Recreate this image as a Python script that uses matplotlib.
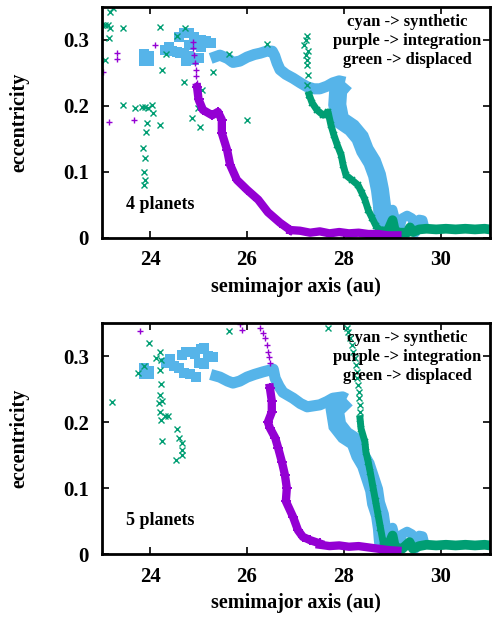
import matplotlib
matplotlib.use("Agg")
import matplotlib.pyplot as plt

plt.rcParams['font.family'] = ['Liberation Serif', 'DejaVu Serif']
plt.rcParams['font.weight'] = 'bold'

CYAN = '#56B4E9'
PURPLE = '#9400D3'
GREEN = '#009E73'

# ---------------- top panel: 4 planets ----------------
t_cyan_blk_a = [23.88, 23.98, 23.88, 23.98, 24.30, 24.40, 24.45, 24.55, 24.62, 24.60, 24.70, 24.80,
                24.90, 24.80, 24.95, 25.05, 24.70, 24.80, 24.90, 25.00, 24.75, 25.05, 25.15, 25.25]
t_cyan_blk_e = [0.278, 0.276, 0.268, 0.268, 0.285, 0.290, 0.283, 0.282, 0.280, 0.305, 0.310, 0.310,
                0.305, 0.292, 0.292, 0.290, 0.280, 0.275, 0.270, 0.272, 0.268, 0.300, 0.298, 0.295]
t_cyan_band_a = [25.25, 25.44, 25.60, 25.71, 25.85, 26.00, 26.15, 26.27, 26.40, 26.52, 26.57, 26.62,
                 26.68, 26.80, 26.95, 27.10, 27.24, 27.38, 27.50, 27.65, 27.77, 27.90, 28.02]
t_cyan_band_e = [0.272, 0.277, 0.272, 0.266, 0.268, 0.274, 0.278, 0.280, 0.283, 0.283, 0.276, 0.265,
                 0.255, 0.248, 0.242, 0.235, 0.229, 0.226, 0.226, 0.230, 0.235, 0.238, 0.236]
t_cyan_drop_a = [28.02, 27.88, 27.86, 27.92, 28.16, 28.33, 28.43, 28.58, 28.68, 28.74, 28.78, 28.80, 28.82]
t_cyan_drop_e = [0.236, 0.224, 0.202, 0.179, 0.167, 0.152, 0.133, 0.115, 0.095, 0.073, 0.050, 0.027, 0.009]
t_cyan_tail_a = [28.82, 28.90, 29.00, 29.08, 29.12, 29.20, 29.30, 29.40, 29.47, 29.55, 29.62, 29.68]
t_cyan_tail_e = [0.009, 0.038, 0.043, 0.020, 0.008, 0.030, 0.034, 0.030, 0.008, 0.028, 0.027, 0.009]

t_green_col_a = [27.24, 27.18, 27.22, 27.24, 27.26, 27.24, 27.28, 27.21, 27.25, 27.23]
t_green_col_e = [0.306, 0.292, 0.277, 0.262, 0.247, 0.232, 0.217, 0.300, 0.284, 0.270]
t_green_trk_a = [27.28, 27.34, 27.44, 27.57, 27.67, 27.73, 27.79, 27.86, 27.94, 27.98, 28.04, 28.16,
                 28.29, 28.37, 28.43, 28.50, 28.58, 28.66, 28.74]
t_green_trk_e = [0.217, 0.205, 0.194, 0.186, 0.191, 0.171, 0.156, 0.141, 0.126, 0.111, 0.095, 0.088,
                 0.080, 0.068, 0.058, 0.042, 0.030, 0.018, 0.012]
t_green_flat_a = [28.74, 28.90, 29.00, 29.05, 29.15, 29.30, 29.36, 29.42, 29.55, 29.70, 29.90, 30.10,
                  30.30, 30.50, 30.70, 30.90, 31.00]
t_green_flat_e = [0.010, 0.010, 0.027, 0.010, 0.008, 0.008, 0.016, 0.009, 0.013, 0.014, 0.013, 0.014,
                  0.013, 0.014, 0.013, 0.014, 0.013]
t_green_pts_a = [23.17, 23.24, 23.00, 23.07, 23.13, 23.17, 23.44, 24.21, 24.72, 23.16, 23.07, 24.56,
                 24.33, 24.25, 25.30, 24.70, 25.07, 26.41, 25.63, 23.44, 23.69, 23.83, 23.90, 23.96,
                 24.04, 24.06, 23.94, 23.92, 24.21, 23.86, 23.90, 23.88, 23.90, 23.88, 24.87, 25.03,
                 24.99, 25.46, 26.00]
t_green_pts_e = [0.342, 0.348, 0.323, 0.323, 0.323, 0.318, 0.318, 0.320, 0.318, 0.303, 0.270, 0.306,
                 0.279, 0.255, 0.252, 0.236, 0.224, 0.294, 0.279, 0.202, 0.197, 0.199, 0.199, 0.197,
                 0.202, 0.189, 0.174, 0.161, 0.171, 0.136, 0.121, 0.100, 0.088, 0.080, 0.182, 0.168,
                 0.197, 0.179, 0.179]

t_purple_col_a = [24.89, 24.88, 24.91, 24.93, 24.94, 24.95, 24.97]
t_purple_col_e = [0.297, 0.288, 0.277, 0.265, 0.255, 0.245, 0.235]
t_purple_trk_a = [24.97, 25.00, 25.09, 25.28, 25.40, 25.48, 25.48, 25.59, 25.65, 25.79, 26.00, 26.23,
                  26.43, 26.68, 26.89]
t_purple_trk_e = [0.228, 0.210, 0.194, 0.186, 0.191, 0.179, 0.159, 0.133, 0.111, 0.088, 0.073, 0.058,
                  0.039, 0.023, 0.012]
t_purple_flat_a = [26.89, 27.09, 27.30, 27.50, 27.70, 27.90, 28.10, 28.30, 28.50, 28.70, 28.90, 29.10]
t_purple_flat_e = [0.012, 0.011, 0.008, 0.010, 0.007, 0.009, 0.007, 0.008, 0.006, 0.006, 0.004, 0.004]
t_purple_pts_a = [24.10, 23.32, 23.32, 23.03, 23.16, 23.67]
t_purple_pts_e = [0.292, 0.280, 0.271, 0.252, 0.176, 0.179]

# ---------------- bottom panel: 5 planets ----------------
b_cyan_blk_a = [23.88, 23.98, 23.88, 23.98, 24.32, 24.42, 24.50, 24.60, 24.65, 24.75, 24.85, 24.92,
                24.70, 24.82, 24.95, 25.00, 25.12, 25.05, 25.12, 25.20, 25.30]
b_cyan_blk_e = [0.282, 0.278, 0.272, 0.272, 0.290, 0.295, 0.285, 0.282, 0.302, 0.306, 0.306, 0.303,
                0.275, 0.272, 0.268, 0.290, 0.288, 0.310, 0.312, 0.300, 0.298]
b_cyan_band_a = [25.25, 25.44, 25.60, 25.71, 25.85, 26.00, 26.15, 26.33, 26.54, 26.58, 26.66, 26.74,
                 26.95, 27.10, 27.24, 27.50, 27.65, 27.77, 27.97, 28.05]
b_cyan_band_e = [0.272, 0.268, 0.262, 0.259, 0.262, 0.268, 0.272, 0.276, 0.280, 0.266, 0.254, 0.245,
                 0.236, 0.228, 0.223, 0.226, 0.231, 0.236, 0.238, 0.235]
b_cyan_drop_a = [28.05, 27.81, 27.86, 28.02, 28.23, 28.33, 28.45, 28.54, 28.62, 28.66, 28.74, 28.78,
                 28.80, 28.82]
b_cyan_drop_e = [0.235, 0.218, 0.195, 0.180, 0.170, 0.150, 0.135, 0.115, 0.097, 0.077, 0.059, 0.039,
                 0.021, 0.009]
b_cyan_tail_a = [28.82, 28.90, 29.00, 29.08, 29.12, 29.20, 29.30, 29.40, 29.47, 29.55, 29.62, 29.68]
b_cyan_tail_e = [0.009, 0.036, 0.040, 0.018, 0.008, 0.030, 0.034, 0.030, 0.008, 0.028, 0.027, 0.009]

b_green_col_a = [28.06, 28.08, 28.12, 28.16, 28.18, 28.23, 28.25, 28.27, 28.27, 28.29, 28.31, 28.31,
                 28.33, 28.33]
b_green_col_e = [0.342, 0.336, 0.327, 0.317, 0.306, 0.297, 0.286, 0.276, 0.267, 0.256, 0.245, 0.236,
                 0.226, 0.215]
b_green_trk_a = [28.33, 28.35, 28.43, 28.45, 28.50, 28.54, 28.60, 28.65, 28.70, 28.75, 28.80]
b_green_trk_e = [0.205, 0.190, 0.170, 0.155, 0.139, 0.124, 0.100, 0.080, 0.060, 0.040, 0.020]
b_green_flat_a = [28.80, 28.90, 29.00, 29.05, 29.20, 29.35, 29.42, 29.55, 29.70, 29.90, 30.10, 30.30,
                  30.50, 30.70, 30.90, 31.00]
b_green_flat_e = [0.008, 0.010, 0.028, 0.010, 0.008, 0.018, 0.008, 0.012, 0.014, 0.013, 0.014, 0.013,
                  0.014, 0.013, 0.014, 0.013]
b_green_pts_a = [23.98, 24.21, 24.12, 24.23, 23.88, 23.75, 24.21, 24.23, 24.21, 24.25, 24.19, 24.21,
                 24.31, 24.37, 24.23, 24.56, 24.60, 24.66, 24.66, 24.66, 24.54, 24.25, 23.22, 25.63,
                 27.67]
b_green_pts_e = [0.320, 0.306, 0.297, 0.294, 0.285, 0.274, 0.279, 0.258, 0.241, 0.232, 0.229, 0.215,
                 0.209, 0.209, 0.203, 0.189, 0.176, 0.168, 0.158, 0.150, 0.142, 0.171, 0.230, 0.338,
                 0.342]

b_purple_col_a = [26.27, 26.33, 26.37, 26.41, 26.43, 26.45, 26.47]
b_purple_col_e = [0.342, 0.335, 0.327, 0.317, 0.306, 0.298, 0.289]
b_purple_trk_a = [26.47, 26.51, 26.51, 26.43, 26.47, 26.58, 26.64, 26.72, 26.78, 26.82, 26.80,
                  26.95, 27.05, 27.15, 27.30, 27.50]
b_purple_trk_e = [0.252, 0.232, 0.215, 0.200, 0.191, 0.176, 0.161, 0.139, 0.120, 0.100, 0.080,
                  0.056, 0.036, 0.026, 0.021, 0.016]
b_purple_flat_a = [27.50, 27.70, 27.90, 28.10, 28.30, 28.50, 28.70, 28.90, 29.10]
b_purple_flat_e = [0.014, 0.012, 0.013, 0.011, 0.012, 0.010, 0.008, 0.006, 0.005]
b_purple_pts_a = [23.79, 25.86, 25.90]
b_purple_pts_e = [0.338, 0.348, 0.340]

x_ticks = [24, 26, 28, 30]
y_ticks = [0, 0.1, 0.2, 0.3]
y_ticklabels = ['0', '0.1', '0.2', '0.3']
key_lines = ['cyan -> synthetic', 'purple -> integration', 'green -> displaced']


def draw_panel(ax, d, label):
    # cyan (synthetic)
    ax.plot(d['cb_a'], d['cb_e'], ls='none', marker='s', ms=7.5, color=CYAN, mew=0)
    ax.plot(d['cband_a'], d['cband_e'], color=CYAN, lw=8, solid_capstyle='butt',
            solid_joinstyle='round')
    ax.plot(d['cdrop_a'], d['cdrop_e'], color=CYAN, lw=13, solid_capstyle='butt',
            solid_joinstyle='miter')
    ax.plot(d['ctail_a'], d['ctail_e'], color=CYAN, lw=7, solid_capstyle='butt',
            solid_joinstyle='round')
    # green (displaced)
    ax.plot(d['gflat_a'], d['gflat_e'], color=GREEN, lw=7, solid_joinstyle='round')
    ax.plot(d['gtrk_a'], d['gtrk_e'], color=GREEN, lw=5, marker='x', ms=5, mew=1.2)
    ax.plot(d['gcol_a'], d['gcol_e'], ls='none', color=GREEN, marker='x', ms=4.5, mew=1.0)
    ax.plot(d['gpts_a'], d['gpts_e'], ls='none', color=GREEN, marker='x', ms=4.5, mew=1.0)
    # purple (integration)
    ax.plot(d['pflat_a'], d['pflat_e'], color=PURPLE, lw=6)
    ax.plot(d['ptrk_a'], d['ptrk_e'], color=PURPLE, lw=6, marker='+', ms=7, mew=1.4)
    ax.plot(d['pcol_a'], d['pcol_e'], ls='none', color=PURPLE, marker='+', ms=5, mew=1.0)
    ax.plot(d['ppts_a'], d['ppts_e'], ls='none', color=PURPLE, marker='+', ms=5, mew=1.0)

    ax.set_xlim(23, 31)
    ax.set_ylim(0, 0.35)
    ax.set_xticks(x_ticks)
    ax.set_xticklabels([str(v) for v in x_ticks], fontsize=15, fontweight='bold')
    ax.set_yticks(y_ticks)
    ax.set_yticklabels(y_ticklabels, fontsize=15, fontweight='bold')
    ax.tick_params(direction='in', length=5, width=1.2, top=True, right=True, pad=9)
    for sp in ax.spines.values():
        sp.set_linewidth(2)
        sp.set_zorder(10)
    ax.set_xlabel('semimajor axis (au)', fontsize=14.5, fontweight='bold')
    ax.xaxis.set_label_coords(0.5, -0.17)
    ax.set_ylabel('eccentricity', fontsize=14.5, fontweight='bold')
    ax.yaxis.set_label_coords(-0.185, 0.5)
    for i, txt in enumerate(key_lines):
        ax.text(0.787, 0.935 - i * 0.083, txt, transform=ax.transAxes, ha='center', va='center',
                fontsize=12, fontweight='bold', zorder=12)
    ax.text(0.062, 0.143, label, transform=ax.transAxes, ha='left', va='center',
            fontsize=13, fontweight='bold', zorder=12)


fig = plt.figure(figsize=(4.93, 6.17), dpi=100)
ax1 = fig.add_axes([0.206, 0.6143, 0.787, 0.3744])
ax2 = fig.add_axes([0.206, 0.1021, 0.787, 0.3744])

top = dict(cb_a=t_cyan_blk_a, cb_e=t_cyan_blk_e, cband_a=t_cyan_band_a, cband_e=t_cyan_band_e,
           cdrop_a=t_cyan_drop_a, cdrop_e=t_cyan_drop_e, ctail_a=t_cyan_tail_a, ctail_e=t_cyan_tail_e,
           gcol_a=t_green_col_a, gcol_e=t_green_col_e, gtrk_a=t_green_trk_a, gtrk_e=t_green_trk_e,
           gflat_a=t_green_flat_a, gflat_e=t_green_flat_e, gpts_a=t_green_pts_a, gpts_e=t_green_pts_e,
           pcol_a=t_purple_col_a, pcol_e=t_purple_col_e, ptrk_a=t_purple_trk_a, ptrk_e=t_purple_trk_e,
           pflat_a=t_purple_flat_a, pflat_e=t_purple_flat_e, ppts_a=t_purple_pts_a, ppts_e=t_purple_pts_e)
bot = dict(cb_a=b_cyan_blk_a, cb_e=b_cyan_blk_e, cband_a=b_cyan_band_a, cband_e=b_cyan_band_e,
           cdrop_a=b_cyan_drop_a, cdrop_e=b_cyan_drop_e, ctail_a=b_cyan_tail_a, ctail_e=b_cyan_tail_e,
           gcol_a=b_green_col_a, gcol_e=b_green_col_e, gtrk_a=b_green_trk_a, gtrk_e=b_green_trk_e,
           gflat_a=b_green_flat_a, gflat_e=b_green_flat_e, gpts_a=b_green_pts_a, gpts_e=b_green_pts_e,
           pcol_a=b_purple_col_a, pcol_e=b_purple_col_e, ptrk_a=b_purple_trk_a, ptrk_e=b_purple_trk_e,
           pflat_a=b_purple_flat_a, pflat_e=b_purple_flat_e, ppts_a=b_purple_pts_a, ppts_e=b_purple_pts_e)

draw_panel(ax1, top, '4 planets')
draw_panel(ax2, bot, '5 planets')

fig.savefig('out.png', dpi=100)
